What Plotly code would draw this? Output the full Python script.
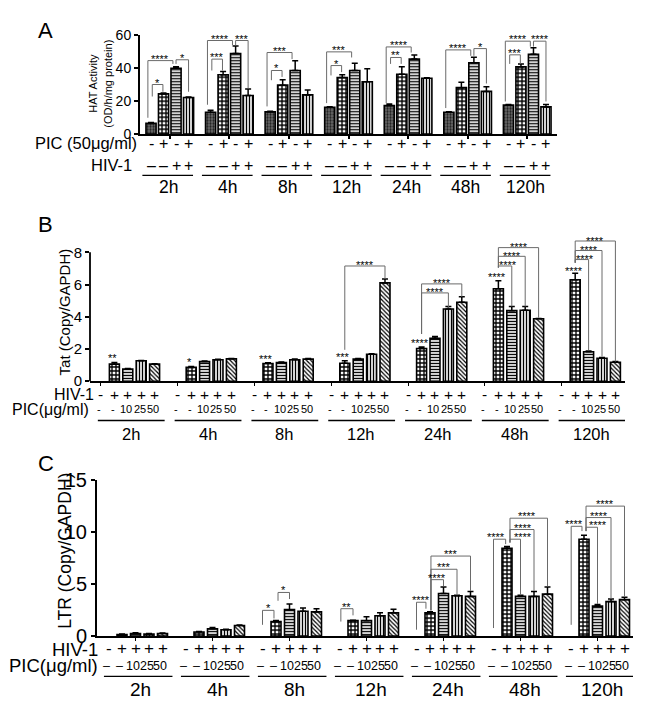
import plotly.graph_objects as go

W, H = 646, 715
FONT = "Liberation Sans, Arial, Helvetica, sans-serif"
INK = "#000000"

groups = ["2h", "4h", "8h", "12h", "24h", "48h", "120h"]

# ---------------- Panel A : HAT activity ----------------
A_pic_signs = ["-", "+", "-", "+"]
A_hiv_signs = ["–", "–", "+", "+"]
A_mock = [6.5, 13.3, 13.5, 16.3, 17.3, 13.3, 17.6]
A_mock_err = [0.6, 1.2, 0.3, 0.3, 0.9, 0.3, 0.4]
A_pic = [24.4, 36.0, 29.7, 34.3, 36.3, 28.2, 40.8]
A_pic_err = [0.6, 2.0, 3.3, 1.7, 4.5, 3.2, 1.7]
A_hiv = [40.0, 48.9, 38.6, 38.6, 45.5, 43.3, 48.4]
A_hiv_err = [0.8, 4.6, 5.9, 4.4, 2.5, 3.4, 4.0]
A_hiv_pic = [22.2, 23.4, 23.8, 31.8, 33.9, 25.9, 16.5]
A_hiv_pic_err = [0.3, 3.9, 2.9, 7.8, 0.3, 2.9, 1.5]
A_yticks = [0, 20, 40, 60]
# (group, left bar, right bar, line y, left leg end, right leg end, label[, label dx px])
A_brackets = [
    (0, 0.1, 0.95, 30.1, 22.8, 25.7, "*"),
    (0, -0.25, 1.75, 44.6, 9.9, 42.6, "****"),
    (0, 2.0, 3.0, 45.1, 42.6, 25.7, "*"),
    (1, 0.1, 0.95, 45.5, 38.6, 38.6, "***"),
    (1, -0.25, 1.75, 56.8, 17.8, 53.9, "****"),
    (1, 2.0, 3.0, 56.8, 53.9, 27.7, "***"),
    (2, 0.1, 0.95, 38.6, 32.7, 34.7, "*"),
    (2, -0.25, 1.75, 49.5, 16.8, 45.5, "***"),
    (3, 0.1, 0.95, 41.6, 35.6, 37.6, "*"),
    (3, -0.25, 1.75, 49.9, 18.8, 46.5, "***"),
    (4, 0.1, 0.95, 46.5, 42.6, 42.6, "**"),
    (4, -0.25, 1.75, 52.9, 18.8, 49.5, "****"),
    (5, -0.25, 1.75, 51.1, 15.8, 47.5, "****"),
    (5, 2.0, 3.0, 51.9, 47.5, 30.7, "*"),
    (6, 0.1, 0.95, 48.1, 42.6, 42.6, "***"),
    (6, -0.25, 1.75, 56.4, 19.8, 53.1, "****"),
    (6, 2.0, 3.0, 56.4, 53.1, 19.8, "****"),
]

# ---------------- Panel B : Tat ----------------
B_hiv_signs = ["-", "+", "+", "+", "+"]
B_pic_labels = ["-", "-", "10", "25", "50"]
B_hiv = [1.06, 0.86, 1.10, 1.12, 2.03, 5.74, 6.30]
B_hiv_err = [0.10, 0.05, 0.05, 0.15, 0.10, 0.50, 0.40]
B_pic10 = [0.76, 1.22, 1.16, 1.37, 2.67, 4.38, 1.83]
B_pic10_err = [0.03, 0.04, 0.04, 0.04, 0.10, 0.26, 0.04]
B_pic25 = [1.27, 1.33, 1.33, 1.67, 4.48, 4.40, 1.43]
B_pic25_err = [0.02, 0.03, 0.05, 0.03, 0.16, 0.24, 0.04]
B_pic50 = [1.06, 1.39, 1.37, 6.10, 4.90, 3.88, 1.18]
B_pic50_err = [0.03, 0.02, 0.04, 0.25, 0.34, 0.02, 0.04]
B_yticks = [0, 2, 4, 6, 8]
B_brackets = [
    (3, 1, 4, 7.15, 1.95, 6.35, "****"),
    (4, 1, 3, 5.48, 2.93, 4.54, "****"),
    (4, 1, 4, 6.04, 2.93, 5.24, "****"),
    (5, 1, 2, 7.15, 7.05, 4.64, "****", 3),
    (5, 1, 3, 7.75, 7.05, 4.64, "****"),
    (5, 1, 4, 8.29, 7.05, 3.94, "****"),
    (6, 1, 2, 7.55, 7.35, 1.93, "****", 3),
    (6, 1, 3, 8.11, 7.35, 1.53, "****"),
    (6, 1, 4, 8.70, 7.35, 1.22, "****"),
]
B_marks = [(0, "**", 1.63), (1, "*", 1.40), (2, "***", 1.57), (3, "***", 1.69),
           (4, "****", 2.53), (5, "****", 6.65), (6, "****", 7.05)]

# ---------------- Panel C : LTR ----------------
C_hiv_signs = ["-", "+", "+", "+", "+"]
C_pic_labels = ["–", "–", "10", "25", "50"]
C_hiv = [0.15, 0.40, 1.40, 1.49, 2.24, 8.45, 9.32]
C_hiv_err = [0.05, 0.05, 0.10, 0.05, 0.10, 0.18, 0.37]
C_pic10 = [0.25, 0.70, 2.55, 1.49, 4.10, 3.82, 2.89]
C_pic10_err = [0.08, 0.14, 0.55, 0.37, 0.62, 0.12, 0.15]
C_pic25 = [0.20, 0.62, 2.40, 1.96, 3.88, 3.82, 3.32]
C_pic25_err = [0.05, 0.05, 0.30, 0.28, 0.06, 0.47, 0.25]
C_pic50 = [0.25, 1.02, 2.33, 2.24, 3.82, 4.04, 3.51]
C_pic50_err = [0.05, 0.05, 0.30, 0.34, 0.47, 0.68, 0.22]
C_yticks = [0, 5, 10, 15]
C_brackets = [
    (2, 0.0, 0.85, 2.48, 1.09, 1.70, "*"),
    (2, 1.15, 2.0, 4.20, 3.40, 3.57, "*"),
    (3, 0.1, 1.0, 2.64, 1.40, 2.00, "**"),
    (4, 0.0, 0.7, 3.26, 0.62, 2.64, "****"),
    (4, 1.07, 2.0, 5.43, 2.48, 4.80, "****"),
    (4, 1.07, 3.0, 6.43, 2.48, 3.94, "***"),
    (4, 1.07, 4.0, 7.70, 2.48, 4.35, "***"),
    (5, 0.0, 0.9, 9.32, 0.78, 8.85, "****", -4),
    (5, 1.22, 2.0, 9.32, 9.00, 3.94, "****", 8),
    (5, 1.22, 3.0, 10.25, 9.00, 4.35, "****", 1),
    (5, 1.22, 4.0, 11.34, 9.00, 4.80, "****", -2),
    (6, 0.05, 0.85, 10.56, 1.09, 10.10, "****", -3),
    (6, 1.15, 2.0, 10.47, 10.10, 3.10, "****", 6),
    (6, 1.15, 3.0, 11.40, 10.10, 3.57, "****"),
    (6, 1.15, 4.0, 12.50, 10.10, 3.82, "****"),
]


def PX(x):
    return x / W


def PY(y):
    return 1 - y / H


STY_DARK = dict(shape=".", fg="#1e1e1e", bg="#707070", size=3, sol=0.45)
STY_CHECK = dict(shape="+", fg="black", bg="white", size=4, sol=0.55)
STY_HLINE = dict(shape="-", fg="black", bg="white", size=3, sol=0.45)
STY_VLINE = dict(shape="|", fg="black", bg="white", size=3, sol=0.45)
STY_DIAG = dict(shape="\\", fg="black", bg="white", size=3, sol=0.4)

fig = go.Figure()


def add_bars(xa, ya, vals, errs, pos, step, center, width, sty):
    xs = [g + (pos - center) * step for g in range(len(vals))]
    fig.add_trace(go.Bar(
        x=xs, y=vals, width=width, xaxis=xa, yaxis=ya, showlegend=False,
        hoverinfo="skip",
        marker=dict(color=sty["bg"], line=dict(color="black", width=1.6),
                    pattern=dict(shape=sty["shape"], fgcolor=sty["fg"],
                                 bgcolor=sty["bg"], size=sty["size"],
                                 solidity=sty["sol"], fillmode="replace")),
        error_y=dict(type="data", array=errs, arrayminus=[0] * len(errs),
                     symmetric=False, color="black", thickness=1.5, width=3),
    ))


shapes = []
annots = []


def txt(x, y, text, size, xref="paper", yref="paper", xanchor="center",
        yanchor="middle", yshift=0, xshift=0, angle=0):
    annots.append(dict(x=x, y=y, xref=xref, yref=yref, text=text, showarrow=False,
                       xanchor=xanchor, yanchor=yanchor, yshift=yshift, xshift=xshift,
                       textangle=angle, borderpad=0,
                       font=dict(family=FONT, size=size, color=INK)))


def brackets(blist, xa, ya, step, center, lab_off):
    for b in blist:
        g, iL, iR, yl, yLe, yRe, lab = b[:7]
        dx = b[7] if len(b) > 7 else 0
        xL = g + (iL - center) * step
        xR = g + (iR - center) * step
        shapes.append(dict(type="path", xref=xa, yref=ya,
                           path=f"M {xL},{yLe} L {xL},{yl} L {xR},{yl} L {xR},{yRe}",
                           line=dict(color="#6a6a6a", width=1)))
        txt((xL + xR) / 2, yl, lab, 11, xref=xa, yref=ya, yshift=lab_off - 3, xshift=dx)


axis_common = dict(showgrid=False, zeroline=False, linecolor="black", ticks="outside",
                   tickcolor="black", fixedrange=True)

# ---------- Panel A ----------
A_step, A_w = 0.21, 0.17
for k, (v, e, s) in enumerate([(A_mock, A_mock_err, STY_DARK), (A_pic, A_pic_err, STY_CHECK),
                               (A_hiv, A_hiv_err, STY_HLINE), (A_hiv_pic, A_hiv_pic_err, STY_VLINE)]):
    add_bars("x", "y", v, e, k, A_step, 1.5, A_w, s)
brackets(A_brackets, "x", "y", A_step, 1.5, 5)

# ---------- Panel B ----------
B_step, B_w = 0.1745, 0.13
for k, (v, e, s) in enumerate([(B_hiv, B_hiv_err, STY_CHECK), (B_pic10, B_pic10_err, STY_HLINE),
                               (B_pic25, B_pic25_err, STY_VLINE), (B_pic50, B_pic50_err, STY_DIAG)]):
    add_bars("x2", "y2", v, e, k + 1, B_step, 2, B_w, s)
brackets(B_brackets, "x2", "y2", B_step, 2, 3.5)
for g, lab, yv in B_marks:
    txt(g - B_step - 0.02, yv, lab, 11, xref="x2", yref="y2", yshift=-3)

# ---------- Panel C ----------
C_step, C_w = 0.1753, 0.13
for k, (v, e, s) in enumerate([(C_hiv, C_hiv_err, STY_CHECK), (C_pic10, C_pic10_err, STY_HLINE),
                               (C_pic25, C_pic25_err, STY_VLINE), (C_pic50, C_pic50_err, STY_DIAG)]):
    add_bars("x3", "y3", v, e, k + 1, C_step, 2, C_w, s)
brackets(C_brackets, "x3", "y3", C_step, 2, 5)

# ---------- category rows ----------
for g, name in enumerate(groups):
    # A
    for i in range(4):
        xa = g + (i - 1.5) * A_step
        txt(xa, PY(136.5), A_pic_signs[i], 16, xref="x")
        txt(xa, PY(159), A_hiv_signs[i], 16, xref="x")
    shapes.append(dict(type="line", xref="x", yref="paper", x0=g - 0.46, x1=g + 0.39,
                       y0=PY(169.5), y1=PY(169.5), line=dict(color=INK, width=1.3)))
    txt(g - 0.03, PY(181.5), name, 17.5, xref="x")
    # B
    for j in range(5):
        xb = g + (j - 2) * B_step
        txt(xb, PY(395.5), B_hiv_signs[j], 15.5, xref="x2")
        txt(xb - 0.02, PY(411), B_pic_labels[j], 11, xref="x2")
    shapes.append(dict(type="line", xref="x2", yref="paper", x0=g - 0.39, x1=g + 0.48,
                       y0=PY(422.5), y1=PY(422.5), line=dict(color=INK, width=1.3)))
    txt(g + 0.04, PY(436), name, 16.5, xref="x2")
    # C
    for j in range(5):
        xc = g + (j - 2) * C_step
        txt(xc, PY(658), C_hiv_signs[j], 17, xref="x3")
        txt(xc - 0.03, PY(675.5), C_pic_labels[j], 12.5, xref="x3")
    shapes.append(dict(type="line", xref="x3", yref="paper", x0=g - 0.41, x1=g + 0.48,
                       y0=PY(686.5), y1=PY(686.5), line=dict(color=INK, width=1.3)))
    txt(g + 0.06, PY(700), name, 19, xref="x3")

# row titles
txt(PX(138), PY(136), "PIC (50μg/ml)", 16.5, xanchor="right")
txt(PX(133), PY(159), "HIV-1", 16.5, xanchor="right")
txt(PX(95), PY(395.5), "HIV-1", 16, xanchor="right")
txt(PX(90), PY(411), "PIC(μg/ml)", 16, xanchor="right")
txt(PX(99), PY(658.5), "HIV-1", 18.5, xanchor="right")
txt(PX(99), PY(675.5), "PIC(μg/ml)", 18.5, xanchor="right")

# axis titles and panel letters
txt(PX(100), PY(75), "HAT Activity<br>(OD/h/mg protein)", 11, angle=-90)
txt(PX(64), PY(311), "Tat (Copy/GAPDH)", 15, angle=-90)
txt(PX(65), PY(557), "LTR (Copy/GAPDH)", 17.5, angle=-90)
txt(PX(45), PY(20), "A", 22)
txt(PX(45), PY(220), "B", 22)
txt(PX(46), PY(467), "C", 22)

# B y-axis line only up to 8
shapes.append(dict(type="line", xref="paper", yref="paper", x0=PX(90), x1=PX(90),
                   y0=PY(382), y1=PY(249), line=dict(color="black", width=1.8)))

fig.update_layout(
    width=W, height=H, margin=dict(l=0, r=0, t=0, b=0),
    plot_bgcolor="white", paper_bgcolor="white", barmode="overlay",
    font=dict(family=FONT, color=INK),
    xaxis=dict(domain=[PX(140), PX(557)], range=[-0.5, 6.5], anchor="y",
               showline=True, linewidth=2, tickvals=list(range(7)), ticklen=3,
               tickwidth=1.5, showticklabels=False, **axis_common),
    yaxis=dict(domain=[PY(127), PY(25)], range=[0, 60], anchor="x",
               showline=True, linewidth=2, tickvals=A_yticks, ticklen=4, tickwidth=1.5,
               tickfont=dict(size=14, family=FONT, color=INK), **axis_common),
    xaxis2=dict(domain=[PX(90), PX(625)], range=[-0.492, 6.474], anchor="y2",
                showline=True, linewidth=1.8,
                tickvals=[g - 2 * 0.1745 for g in range(7)], ticklen=3, tickwidth=1.2,
                showticklabels=False, **axis_common),
    yaxis2=dict(domain=[PY(382), PY(229)], range=[0, 9.2], anchor="x2",
                showline=False, tickvals=B_yticks, ticklen=4, tickwidth=1.5,
                tickfont=dict(size=15, family=FONT, color=INK), **axis_common),
    xaxis3=dict(domain=[PX(97), PX(633)], range=[-0.5, 6.461], anchor="y3",
                showline=True, linewidth=2, tickvals=list(range(7)), ticklen=3,
                tickwidth=1.2, showticklabels=False, **axis_common),
    yaxis3=dict(domain=[PY(645), PY(484)], range=[0, 15], anchor="x3",
                showline=True, linewidth=2, tickvals=C_yticks, ticklen=4, tickwidth=1.5,
                tickfont=dict(size=20, family=FONT, color=INK), **axis_common),
    shapes=shapes, annotations=annots,
)

fig.write_html("out.html", config={"displayModeBar": False},
               post_script="document.body.style.margin='0';document.body.style.overflow='hidden';")
